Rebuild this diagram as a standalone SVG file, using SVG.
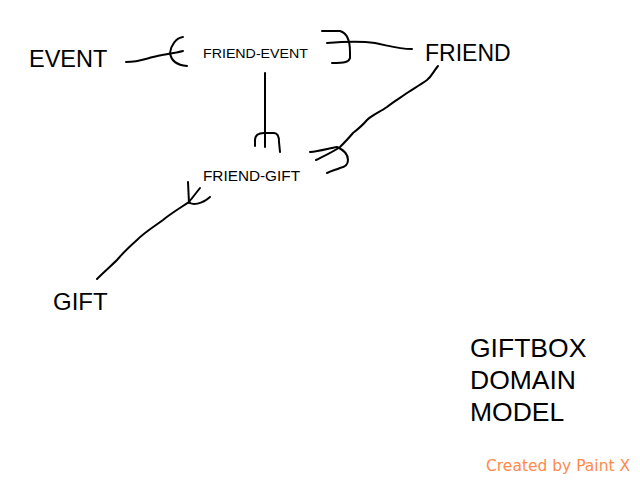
<svg xmlns="http://www.w3.org/2000/svg" width="640" height="480" viewBox="0 0 640 480">
<style>
.t{font-family:"Liberation Sans",Arial,sans-serif;fill:#000}
.c path{fill:none;stroke:#000;stroke-width:2;stroke-linecap:round;stroke-linejoin:round}
</style>
<rect width="640" height="480" fill="#fff"/>
<g id="event"><text class="t" x="29" y="67" font-size="23.5">EVENT</text></g>
<g id="friend-event"><text class="t" x="203" y="58" font-size="13.5" textLength="105" lengthAdjust="spacingAndGlyphs">FRIEND-EVENT</text></g>
<g id="friend"><text class="t" x="425" y="61" font-size="23">FRIEND</text></g>
<g id="friend-gift"><text class="t" x="203" y="181" font-size="15" textLength="97" lengthAdjust="spacingAndGlyphs">FRIEND-GIFT</text></g>
<g id="gift"><text class="t" x="53" y="310" font-size="24">GIFT</text></g>
<g id="title"><text class="t" font-size="26.5"><tspan x="470" y="357">GIFTBOX</tspan><tspan x="470" y="389">DOMAIN</tspan><tspan x="470" y="421">MODEL</tspan></text></g>
<g id="watermark"><text x="486" y="471" font-family="'DejaVu Sans',Verdana,sans-serif" font-size="15.5" fill="#ff8a4c">Created by Paint X</text></g>
<g class="c" id="connectors">
<path d="M126,62 C138,62 145,59 153,57 C162,55 175,53 183,51"/>
<path d="M183,37 C176,38 171,45 170,53 C171,60 176,65 187,66"/>
<path d="M322,31 L340,31 C347,33 350,42 350,52 L350,58 C349,62 345,63 332,63"/>
<path d="M327,43 C340,42 360,41 375,43 C390,46 398,49 412,49"/>
<path d="M265,73 L265,147"/>
<path d="M255,146 L255,140 C255,135 259,133 264,133 L274,133 C278,133 279,137 279,142 L280,152"/>
<path d="M438,66 C433,72 432,76 427,80 C420,85 413,89 407,93 C400,98 393,102 387,107 C380,112 372,115 367,120 C362,126 358,129 353,133 C348,139 345,142 340,147 C333,152 324,156 316,160"/>
<path d="M310,152 C320,151 330,148 337,147 C344,150 348,154 348,160 C348,165 345,167 340,168 C335,170 331,171 327,173"/>
<path d="M188,182 L189,203"/>
<path d="M200,188 L189,202"/>
<path d="M189,202 C192,206 202,204 210,197"/>
<path d="M189,202 C180,208 170,214 163,220 C155,226 145,232 137,240 C128,248 122,254 117,260 C111,266 104,272 97,279"/>
</g>
</svg>
